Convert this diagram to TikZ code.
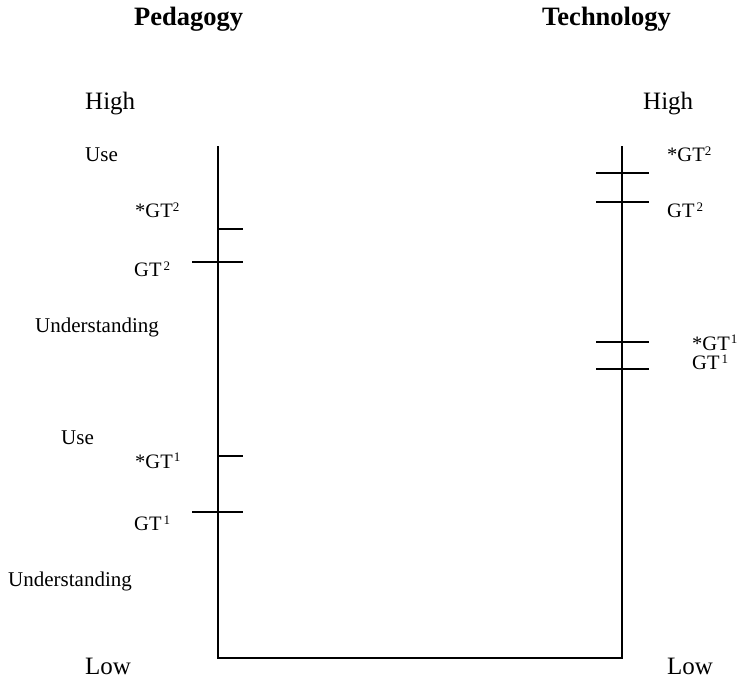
\documentclass[tikz,border=0pt]{standalone}
\usepackage{fontspec}
\setmainfont{Liberation Serif}
\newcommand\supx[1]{\raisebox{0.3em}{\fontsize{13}{13}\selectfont #1}}
\begin{document}
\begin{tikzpicture}[x=1pt,y=-1pt,
  lbl/.style={anchor=base west,inner sep=0pt,font=\fontsize{21}{24}\selectfont},
  big/.style={anchor=base west,inner sep=0pt,font=\fontsize{25}{30}\selectfont},
  head/.style={anchor=base west,inner sep=0pt,font=\fontsize{26.5}{30}\selectfont\bfseries},
  gt/.style={anchor=base west,inner sep=0pt,font=\fontsize{20.5}{24}\selectfont},
  axis/.style={line width=1.8pt,line cap=rect},
  tick/.style={line width=1.8pt}]
\useasboundingbox (0,0) rectangle (739,679);
% axes
\coordinate (LT) at (218,147);
\coordinate (LB) at (218,658);
\coordinate (RB) at (622,658);
\coordinate (RT) at (622,147);
\draw[axis] (LT) -- (LB) -- (RB) -- (RT);
% left ticks
\coordinate (l1a) at (218,229); \coordinate (l1b) at (242.5,229);
\coordinate (l2a) at (192,262); \coordinate (l2b) at (242.5,262);
\coordinate (l3a) at (218,456); \coordinate (l3b) at (242.5,456);
\coordinate (l4a) at (192,512); \coordinate (l4b) at (242.5,512);
\draw[tick] (l1a) -- (l1b);
\draw[tick] (l2a) -- (l2b);
\draw[tick] (l3a) -- (l3b);
\draw[tick] (l4a) -- (l4b);
% right ticks
\coordinate (r1a) at (596,173); \coordinate (r1b) at (648.5,173);
\coordinate (r2a) at (596,202); \coordinate (r2b) at (648.5,202);
\coordinate (r3a) at (596,342); \coordinate (r3b) at (648.5,342);
\coordinate (r4a) at (596,369); \coordinate (r4b) at (648.5,369);
\draw[tick] (r1a) -- (r1b);
\draw[tick] (r2a) -- (r2b);
\draw[tick] (r3a) -- (r3b);
\draw[tick] (r4a) -- (r4b);
% headers
\node[head] (ped) at (134,26) {Pedagogy};
\node[head] (tech) at (542,26) {Technology};
\node[big] (hl) at (85,110) {High};
\node[big] (hr) at (643,110) {High};
\node[big] (ll) at (85,674) {Low};
\node[big] (lr) at (667,674) {Low};
% left labels
\node[lbl] (use1) at (85,162) {Use};
\node[gt] (sgt2l) at (135,218) {*GT\supx{2}};
\node[gt] (gt2l) at (134,276.7) {GT\kern2pt\supx{2}};
\node[lbl] (und1) at (35,332) {Understanding};
\node[lbl] (use2) at (61,444) {Use};
\node[gt] (sgt1l) at (135,468) {*GT\kern1pt\supx{1}};
\node[gt] (gt1l) at (134,530.7) {GT\kern2pt\supx{1}};
\node[lbl] (und2) at (8,586.7) {Understanding};
% right labels
\node[gt] (sgt2r) at (667,161.7) {*GT\supx{2}};
\node[gt] (gt2r) at (667,217.3) {GT\kern2pt\supx{2}};
\node[gt] (sgt1r) at (692,350) {*GT\kern1pt\supx{1}};
\node[gt] (gt1r) at (692,369.5) {GT\kern2pt\supx{1}};
\end{tikzpicture}
\end{document}
